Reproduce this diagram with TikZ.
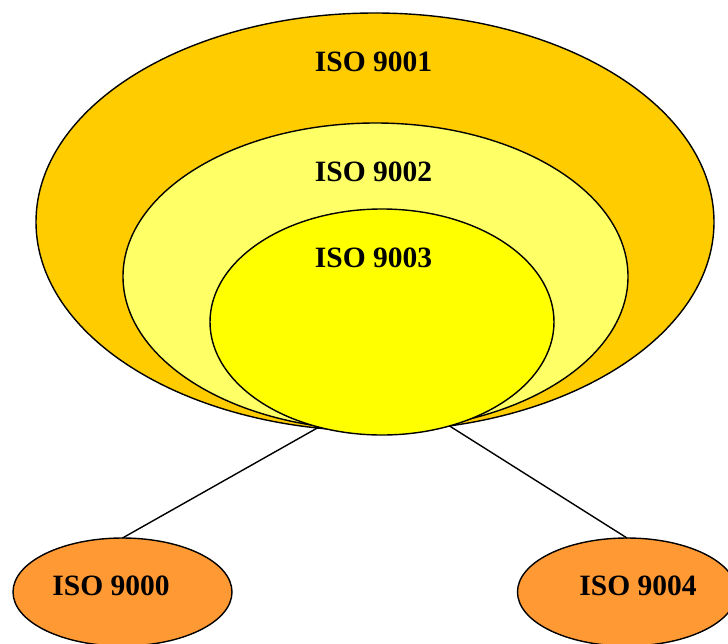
\documentclass[tikz,border=0pt]{standalone}
\usepackage{fontspec}
\setmainfont{Liberation Serif}
\usetikzlibrary{shapes.geometric}

\definecolor{ringOuter}{HTML}{FFCC00}
\definecolor{ringMiddle}{HTML}{FFFF66}
\definecolor{ringInner}{HTML}{FFFF00}
\definecolor{leafFill}{HTML}{FF9933}

\tikzset{
  ring/.style={ellipse, draw=black, line width=1.4pt, inner sep=0pt, outer sep=0pt},
  leaf/.style={ring, fill=leafFill, minimum width=219pt, minimum height=108pt},
  label/.style={font=\fontsize{29.5}{34}\selectfont\bfseries, inner sep=0pt},
  link/.style={draw=black, line width=1.4pt}
}

\begin{document}
\begin{tikzpicture}[x=1pt, y=-1pt]
  \useasboundingbox (0,0) rectangle (728,643);
  \clip (0,0) rectangle (728,643);

  % nested standards
  \node[ring, fill=ringOuter, minimum width=678pt, minimum height=418pt] (e1) at (375,222) {};
  \node[ring, fill=ringMiddle, minimum width=505pt, minimum height=307pt] (e2) at (375.5,276.5) {};
  \node[ring, fill=ringInner, minimum width=344pt, minimum height=226pt] (e3) at (382,322) {};

  % companion standards
  \node[leaf] (e0) at (122.5,592) {};
  \node[leaf] (e4) at (627,592) {};

  % connectors
  \draw[link] (e3.239.7) -- (e0.north);
  \draw[link] (e3.303.4) -- (e4.north);

  % labels
  \node[label] (t1) at (373.5,62) {ISO 9001};
  \node[label] (t2) at (373.5,172) {ISO 9002};
  \node[label] (t3) at (373.5,258) {ISO 9003};
  \node[label] (t0) at (111,586) {ISO 9000};
  \node[label] (t4) at (638,586) {ISO 9004};
\end{tikzpicture}
\end{document}
